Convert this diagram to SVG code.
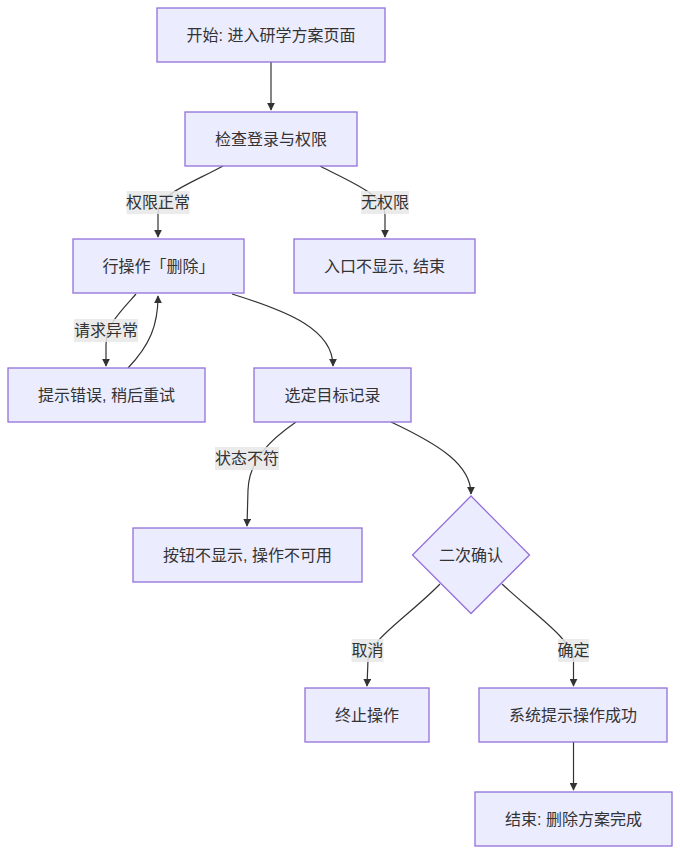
<svg xmlns="http://www.w3.org/2000/svg" width="680" height="854" viewBox="0 0 680 854">
<defs>
<marker id="arr" viewBox="0 0 10 10" refX="9" refY="5" markerWidth="8" markerHeight="8" orient="auto-start-reverse" markerUnits="userSpaceOnUse">
<path d="M0,0 L10,5 L0,10 z" fill="#333"/>
</marker>
<style>
.node rect,.node polygon{fill:#ECECFF;stroke:#9370DB;stroke-width:1.3}
text{font-family:"Trebuchet MS","Liberation Sans","Noto Sans CJK SC",sans-serif;font-size:16px;fill:#333;text-anchor:middle;dominant-baseline:central}
.edges path{fill:none;stroke:#333;stroke-width:1.2;marker-end:url(#arr)}
.lbl rect{fill:#e8e8e8;opacity:0.85}
</style>
</defs>
<rect width="680" height="854" fill="#fff"/>
<g class="edges">
<path d="M271,62 L271,110"/>
<path d="M223,166 C190,184 158,194 158,214 L158,237"/>
<path d="M320,166 C350,182 385,195 385,215 L385,237"/>
<path d="M136,294 C120,312 106,325 106,345 L106,366"/>
<path d="M128,368 C150,345 158,325 158,296"/>
<path d="M232,294 C290,312 333,330 333,366"/>
<path d="M296,422 C270,440 249,460 248,490 L247,526"/>
<path d="M391,422 C440,445 471,465 471,494"/>
<path d="M440,584 C410,615 369,640 368,660 L367,686"/>
<path d="M502,584 C535,615 573,640 573.5,660 L573.5,686"/>
<path d="M573.5,742 L573.5,790"/>
</g>
<g class="lbl">
<rect x="126.5" y="191" width="63" height="23"/><text x="158" y="202.5">权限正常</text>
<rect x="361" y="191" width="48" height="23"/><text x="385" y="202.5">无权限</text>
<rect x="74" y="319" width="64" height="23"/><text x="106" y="330.5">请求异常</text>
<rect x="215" y="447" width="64" height="23"/><text x="247" y="458.5">状态不符</text>
<rect x="351.5" y="639" width="32" height="23"/><text x="367.5" y="650.5">取消</text>
<rect x="558" y="639" width="31" height="23"/><text x="573.5" y="650.5">确定</text>
</g>
<g id="start" class="node"><rect x="157" y="8" width="228" height="54"/><text x="271" y="35">开始: 进入研学方案页面</text></g>
<g id="check" class="node"><rect x="185" y="112" width="172" height="54"/><text x="271" y="139">检查登录与权限</text></g>
<g id="del" class="node"><rect x="73" y="239" width="171" height="54"/><text x="158.5" y="266">行操作「删除」</text></g>
<g id="noperm" class="node"><rect x="294" y="239" width="181" height="54"/><text x="384.5" y="266">入口不显示, 结束</text></g>
<g id="err" class="node"><rect x="8" y="368" width="197" height="54"/><text x="106.5" y="395">提示错误, 稍后重试</text></g>
<g id="select" class="node"><rect x="254" y="368" width="157" height="54"/><text x="332.5" y="395">选定目标记录</text></g>
<g id="hide" class="node"><rect x="133" y="528" width="229" height="54"/><text x="247.5" y="555">按钮不显示, 操作不可用</text></g>
<g id="confirm" class="node"><polygon points="471,496 529.5,555 471,613.5 412.5,555"/><text x="471" y="555">二次确认</text></g>
<g id="abort" class="node"><rect x="305" y="688" width="124" height="54"/><text x="367" y="715">终止操作</text></g>
<g id="ok" class="node"><rect x="479" y="688" width="188" height="54"/><text x="573" y="715">系统提示操作成功</text></g>
<g id="end" class="node"><rect x="475" y="792" width="197" height="54"/><text x="573.5" y="819">结束: 删除方案完成</text></g>
</svg>
